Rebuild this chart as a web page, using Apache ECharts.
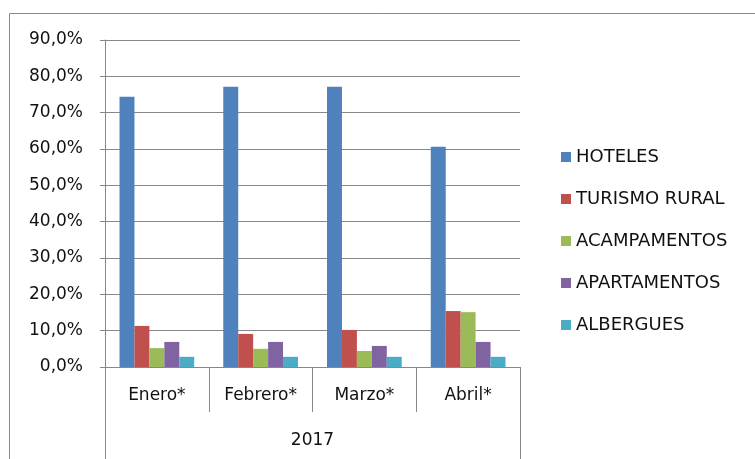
<!DOCTYPE html>
<html>
<head>
<meta charset="utf-8">
<script src="https://cdn.jsdelivr.net/npm/echarts@6/dist/echarts.min.js"></script>
<style>
  html, body { margin: 0; padding: 0; background: #fff; }
  #main { width: 755px; height: 459px; }
</style>
</head>
<body>
<div id="main"></div>
<script>
// datos
var months = ['Enero*', 'Febrero*', 'Marzo*', 'Abril*'];
var year = ['2017'];
var hoteles = [74.4, 77.1, 77.1, 60.6];
var turismoRural = [11.3, 9.1, 10.2, 15.4];
var acampamentos = [5.2, 5.0, 4.4, 15.1];
var apartamentos = [6.9, 6.9, 5.8, 6.9];
var albergues = [2.8, 2.8, 2.8, 2.8];

var myChart = echarts.init(document.getElementById('main'));
var font = 'DejaVu Sans';

function serie(name, color, data) {
    return {
        name: name,
        type: 'bar',
        data: data,
        barGap: 0,
        barCategoryGap: '28%',
        itemStyle: { color: color },
        emphasis: { disabled: true }
    };
}

var option = {
    animation: false,
    textStyle: { fontFamily: font },
    graphic: [{
        type: 'rect',
        shape: { x: 9.5, y: 13.5, width: 800, height: 500 },
        style: { fill: 'none', stroke: '#888', lineWidth: 1 },
        silent: true
    }],
    grid: { left: 105, right: 235, top: 40, bottom: 92 },
    legend: {
        orient: 'vertical',
        left: 556,
        top: 143,
        itemWidth: 10,
        itemHeight: 10,
        itemGap: 24,
        icon: 'rect',
        textStyle: { fontSize: 18, color: '#111', fontFamily: font },
        data: ['HOTELES', 'TURISMO RURAL', 'ACAMPAMENTOS', 'APARTAMENTOS', 'ALBERGUES']
    },
    xAxis: [{
        type: 'category',
        data: months,
        position: 'bottom',
        axisLine: { show: true, lineStyle: { color: '#888' } },
        axisTick: { show: true, alignWithLabel: false, length: 45, lineStyle: { color: '#888' } },
        axisLabel: { fontSize: 17, color: '#111', margin: 20 }
    }, {
        type: 'category',
        data: year,
        position: 'bottom',
        axisLine: { show: false },
        axisTick: { show: true, length: 92, lineStyle: { color: '#888' } },
        axisLabel: { fontSize: 17, color: '#111', margin: 65 }
    }],
    yAxis: {
        type: 'value',
        min: 0,
        max: 90,
        interval: 10,
        axisLine: { show: true, lineStyle: { color: '#888' } },
        axisTick: { show: true, length: 5, lineStyle: { color: '#888' } },
        splitLine: { show: true, lineStyle: { color: '#888', width: 1 } },
        axisLabel: {
            fontSize: 17,
            color: '#111',
            margin: 22,
            formatter: function (v) { return v.toFixed(1).replace('.', ',') + '%'; }
        }
    },
    series: [
        serie('HOTELES', '#4f81bd', hoteles),
        serie('TURISMO RURAL', '#c0504d', turismoRural),
        serie('ACAMPAMENTOS', '#9bbb59', acampamentos),
        serie('APARTAMENTOS', '#8064a2', apartamentos),
        serie('ALBERGUES', '#4bacc6', albergues)
    ]
};

myChart.setOption(option);
</script>
</body>
</html>
